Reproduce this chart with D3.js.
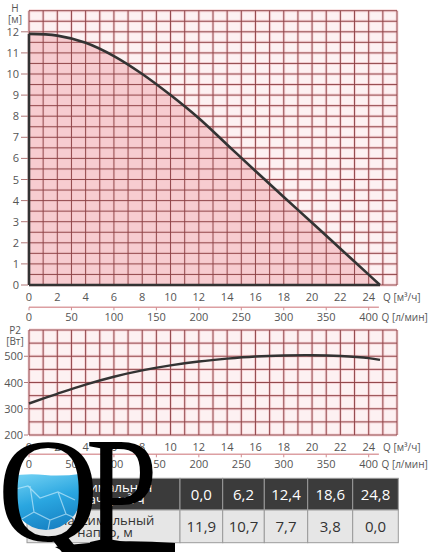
<!DOCTYPE html>
<html>
<head>
<meta charset="utf-8">
<script src="https://d3js.org/d3.v7.min.js"></script>
<style>
  html, body { margin: 0; padding: 0; background: #fff; }
  svg { display: block; font-family: "Open Sans", "Noto Sans", sans-serif; }
</style>
</head>
<body>
<script>
// Head curve H(Q)
const headQ = [0, 2, 4, 6, 8, 10, 12, 14, 16, 18, 20, 22, 24, 24.8];
const headM = [11.9, 11.82, 11.48, 10.85, 10.0, 9.0, 7.9, 6.65, 5.4, 4.17, 2.95, 1.72, 0.49, 0];

// Power curve P2(Q)
const powerQ = [0, 2, 4, 6, 8, 10, 12, 14, 16, 18, 20, 22, 24, 24.8];
const powerW = [320, 357, 392, 422, 446, 465, 480, 491, 499, 503, 504, 501, 493, 486];

// Tick labels
const flowTicks = [0, 2, 4, 6, 8, 10, 12, 14, 16, 18, 20, 22, 24];
const lminTicks = [0, 50, 100, 150, 200, 250, 300, 350, 400];
const headTicks = [0, 1, 2, 3, 4, 5, 6, 7, 8, 9, 10, 11, 12];
const powerTicks = [200, 300, 400, 500];

// Table
const tableFlow = [0.0, 6.2, 12.4, 18.6, 24.8];
const tableHead = [11.9, 10.7, 7.7, 3.8, 0.0];
const tableRowLabels = [["Максимальная", "подача, м³/ч"], ["Максимальный", "напор, м"]];

const W = 430, H = 552;
const gridColor = "#8e4246";
const glowColor = "#f3c4c7";
const plotBg = "#fdf1f2";
const textColor = "#555";

const ru = d3.formatLocale({decimal: ",", thousands: " ", grouping: [3], currency: ["", ""]});
const fmt1 = ru.format(".1f");

const svg = d3.select("body").append("svg")
  .attr("width", W)
  .attr("height", H);

const x = d3.scaleLinear().domain([0, 26]).range([29, 397]);
const xL = d3.scaleLinear().domain([0, 26 * 1000 / 60]).range([29, 397]); // л/мин
const yH = d3.scaleLinear().domain([0, 13]).range([285, 10.7]);
const yP = d3.scaleLinear().domain([200, 600]).range([435, 330]);

function drawGrid(g, yScale, yGridTicks) {
  const [x0, x1] = x.range();
  const [yb, yt] = yScale.range();
  g.append("rect")
    .attr("x", x0).attr("y", yt)
    .attr("width", x1 - x0).attr("height", yb - yt)
    .attr("fill", plotBg);
  return function lines() {
    [[glowColor, 3, 0.6], [gridColor, 1, 0.95]].forEach(([c, w, op]) => {
      g.append("g").selectAll("line")
        .data(x.ticks(26))
        .join("line")
        .attr("x1", d => x(d)).attr("x2", d => x(d))
        .attr("y1", yt).attr("y2", yb)
        .attr("stroke", c).attr("stroke-width", w).attr("opacity", op);
      g.append("g").selectAll("line")
        .data(yGridTicks)
        .join("line")
        .attr("x1", x0).attr("x2", x1)
        .attr("y1", d => yScale(d)).attr("y2", d => yScale(d))
        .attr("stroke", c).attr("stroke-width", w).attr("opacity", op);
    });
  };
}

function drawFlowAxes(g, yLabel, yLine, yLabel2) {
  g.append("g").selectAll("text")
    .data(flowTicks)
    .join("text")
    .attr("x", d => x(d)).attr("y", yLabel)
    .attr("text-anchor", "middle")
    .attr("font-size", 11).attr("fill", textColor)
    .text(d => d);
  g.append("text")
    .attr("x", 383).attr("y", yLabel)
    .attr("font-size", 10).attr("fill", textColor)
    .text("Q [м³/ч]");

  g.append("line")
    .attr("x1", xL(0)).attr("x2", xL(412))
    .attr("y1", yLine).attr("y2", yLine)
    .attr("stroke", "#dc9fa2").attr("stroke-width", 1.5);
  g.append("g").selectAll("line")
    .data(lminTicks)
    .join("line")
    .attr("x1", d => xL(d)).attr("x2", d => xL(d))
    .attr("y1", yLine).attr("y2", yLine + 3)
    .attr("stroke", "#d08a8e").attr("stroke-width", 1);
  g.append("g").selectAll("text")
    .data(lminTicks)
    .join("text")
    .attr("x", d => xL(d)).attr("y", yLabel2)
    .attr("text-anchor", "middle")
    .attr("font-size", 11).attr("fill", textColor)
    .text(d => d);
  g.append("text")
    .attr("x", 381.5).attr("y", yLabel2)
    .attr("font-size", 10).attr("fill", textColor)
    .text("Q [л/мин]");
}

// ---- Head chart ----
const gH = svg.append("g");
const gridH = drawGrid(gH, yH, yH.ticks(26));

const headPts = headQ.map((q, i) => [q, headM[i]]);
gH.append("path")
  .datum(headPts)
  .attr("fill", "#f6c6ca")
  .attr("opacity", 0.85)
  .attr("d", d3.area().x(d => x(d[0])).y0(yH(0)).y1(d => yH(d[1])).curve(d3.curveCatmullRom));

gridH();

gH.append("path")
  .datum(headPts)
  .attr("fill", "none")
  .attr("stroke", "#333").attr("stroke-width", 2.6)
  .attr("d", d3.line().x(d => x(d[0])).y(d => yH(d[1])).curve(d3.curveCatmullRom));
gH.append("line")
  .attr("x1", x(0)).attr("x2", x(0))
  .attr("y1", yH(0)).attr("y2", yH(headM[0]))
  .attr("stroke", "#333").attr("stroke-width", 2.6);
gH.append("line")
  .attr("x1", x(0)).attr("x2", x(headQ[headQ.length - 1]))
  .attr("y1", yH(0)).attr("y2", yH(0))
  .attr("stroke", "#333").attr("stroke-width", 2.6);

gH.append("g").selectAll("line")
  .data(headTicks)
  .join("line")
  .attr("x1", 21).attr("x2", 28)
  .attr("y1", d => yH(d)).attr("y2", d => yH(d))
  .attr("stroke", "#b07878").attr("stroke-width", 1);
gH.append("g").selectAll("text")
  .data(headTicks)
  .join("text")
  .attr("x", 19).attr("y", d => yH(d) + 4)
  .attr("text-anchor", "end")
  .attr("font-size", 11).attr("fill", textColor)
  .text(d => d);
gH.append("text").attr("x", 15).attr("y", 12)
  .attr("text-anchor", "middle").attr("font-size", 10).attr("fill", textColor).text("H");
gH.append("text").attr("x", 15).attr("y", 22.5)
  .attr("text-anchor", "middle").attr("font-size", 10).attr("fill", textColor).text("[м]");

drawFlowAxes(gH, 300.6, 307.3, 320.5);

// ---- Power chart ----
const gP = svg.append("g");
const gridP = drawGrid(gP, yP, yP.ticks(8));
gridP();

gP.append("path")
  .datum(powerQ.map((q, i) => [q, powerW[i]]))
  .attr("fill", "none")
  .attr("stroke", "#333").attr("stroke-width", 2.4)
  .attr("d", d3.line().x(d => x(d[0])).y(d => yP(d[1])).curve(d3.curveCatmullRom));

gP.append("g").selectAll("line")
  .data(powerTicks)
  .join("line")
  .attr("x1", 24).attr("x2", 28)
  .attr("y1", d => yP(d)).attr("y2", d => yP(d))
  .attr("stroke", "#b07878").attr("stroke-width", 1);
gP.append("g").selectAll("text")
  .data(powerTicks)
  .join("text")
  .attr("x", 23).attr("y", d => yP(d) + 4)
  .attr("text-anchor", "end")
  .attr("font-size", 11).attr("fill", textColor)
  .text(d => d);
gP.append("text").attr("x", 15).attr("y", 333.5)
  .attr("text-anchor", "middle").attr("font-size", 10).attr("fill", textColor).text("P2");
gP.append("text").attr("x", 15).attr("y", 345)
  .attr("text-anchor", "middle").attr("font-size", 10).attr("fill", textColor).text("[Вт]");

drawFlowAxes(gP, 450.5, 454.3, 468);

// ---- Table ----
const colEdges = [27, 180, 222.7, 264.3, 307.7, 352.7, 398.3];
const rowEdges = [478.3, 510, 542.7];
const gT = svg.append("g");
const rows = [tableFlow, tableHead];
rows.forEach((vals, r) => {
  const y0 = rowEdges[r], y1 = rowEdges[r + 1];
  const bg = r === 0 ? "#3b3b3b" : "#e6e6e6";
  const fg = r === 0 ? "#fff" : "#333";
  gT.append("rect")
    .attr("x", colEdges[0]).attr("y", y0)
    .attr("width", colEdges[1] - colEdges[0]).attr("height", y1 - y0)
    .attr("fill", bg).attr("stroke", "#9a9a9a").attr("stroke-width", 1);
  tableRowLabels[r].forEach((t, k) => {
    gT.append("text")
      .attr("x", 105).attr("y", (r === 0 ? 492 : 525) + k * 12)
      .attr("text-anchor", "middle")
      .attr("font-size", 13).attr("fill", fg)
      .text(t);
  });
  vals.forEach((v, c) => {
    const xa = colEdges[c + 1], xb = colEdges[c + 2];
    gT.append("rect")
      .attr("x", xa).attr("y", y0)
      .attr("width", xb - xa).attr("height", y1 - y0)
      .attr("fill", bg).attr("stroke", "#9a9a9a").attr("stroke-width", 1);
    gT.append("text")
      .attr("x", (xa + xb) / 2).attr("y", (y0 + y1) / 2 + 5.5)
      .attr("text-anchor", "middle")
      .attr("font-size", 15).attr("fill", fg)
      .text(fmt1(v));
  });
});

// ---- QP logo overlay ----
const defs = svg.append("defs");
const grad = defs.append("linearGradient").attr("id", "water")
  .attr("x1", 0).attr("y1", 0).attr("x2", 0.3).attr("y2", 1);
grad.append("stop").attr("offset", "0%").attr("stop-color", "#7fd9f7");
grad.append("stop").attr("offset", "45%").attr("stop-color", "#2aa6e0");
grad.append("stop").attr("offset", "100%").attr("stop-color", "#0d6fb5");
defs.append("clipPath").attr("id", "counter")
  .append("ellipse").attr("cx", 46).attr("cy", 491).attr("rx", 36).attr("ry", 39);

const gLogo = svg.append("g");
const water = gLogo.append("g").attr("clip-path", "url(#counter)");
water.append("path")
  .attr("d", "M5,477 Q25,473 45,475 T92,472 L92,552 L5,552 Z")
  .attr("fill", "url(#water)");
water.append("path")
  .attr("d", "M12,490 L28,486 L40,498 L58,492 L75,500 M30,486 L34,512 L50,520 L66,514 M20,520 L34,512 M50,520 L48,530 M58,492 L66,514 L80,520")
  .attr("fill", "none").attr("stroke", "#d8f4ff").attr("stroke-width", 1.2).attr("opacity", 0.6);

// place a serif letter so that its inked cap box fits the given box
const logoFont = "'Liberation Serif', 'DejaVu Serif', serif";
const ctx = document.createElement("canvas").getContext("2d");
ctx.font = "100px " + logoFont;
function logoLetter(ch, left, right, top, baseline) {
  const m = ctx.measureText(ch);
  const inkL = -m.actualBoundingBoxLeft, inkR = m.actualBoundingBoxRight;
  const asc = ch === "Q" ? 67.7 : 66.2;
  const sx = (right - left) / (inkR - inkL);
  const sy = (baseline - top) / asc;
  gLogo.append("text")
    .attr("font-family", logoFont)
    .attr("font-size", 100).attr("fill", "#000")
    .attr("transform", `translate(${left - inkL * sx},${baseline}) scale(${sx},${sy})`)
    .text(ch);
}
logoLetter("Q", 3, 97, 441, 541);
logoLetter("P", 88, 153, 441, 546);

gLogo.append("path")
  .attr("d", "M55,547 Q110,538 175,543 L175,552 L65,552 Z")
  .attr("fill", "#000");
</script>
</body>
</html>
